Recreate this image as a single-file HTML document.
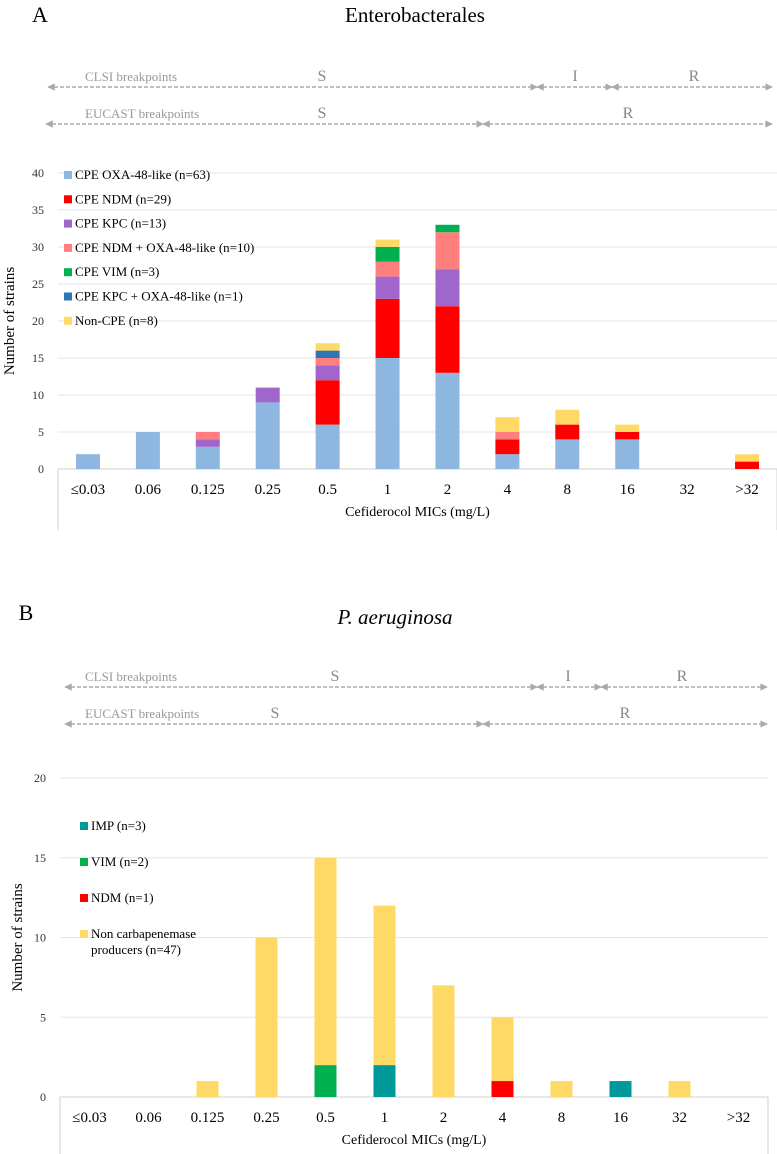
<!DOCTYPE html>
<html><head><meta charset="utf-8"><style>
html,body{margin:0;padding:0;background:#fff;}
svg{display:block;font-family:"Liberation Serif",serif;}
</style></head><body>
<svg id="s" width="777" height="1154" viewBox="0 0 777 1154">
<defs>
<marker id="ar" viewBox="0 0 10 10" refX="9" refY="5" markerWidth="5" markerHeight="5" orient="auto-start-reverse"><path d="M0,0 L10,5 L0,10 z" fill="#aaa"/></marker>
</defs>
<text x="40" y="22" font-size="22" text-anchor="middle">A</text>
<text x="415" y="22" font-size="21" text-anchor="middle">Enterobacterales</text>
<text x="26" y="620" font-size="22" text-anchor="middle">B</text>
<text x="395" y="624" font-size="21" font-style="italic" text-anchor="middle">P. aeruginosa</text>
<g id="gA"></g><g id="gB"></g>
</svg>
<script>
const NS='http://www.w3.org/2000/svg';
const svg=document.getElementById('s');
function el(t,a,p,txt){const e=document.createElementNS(NS,t);for(const k in a)e.setAttribute(k,a[k]);if(txt!==undefined)e.textContent=txt;(p||svg).appendChild(e);return e;}

const categories=['≤0.03','0.06','0.125','0.25','0.5','1','2','4','8','16','32','>32'];
// Panel A series
const aSeriesNames=['CPE OXA-48-like (n=63)','CPE NDM (n=29)','CPE KPC (n=13)','CPE NDM + OXA-48-like (n=10)','CPE VIM (n=3)','CPE KPC + OXA-48-like (n=1)','Non-CPE (n=8)'];
const aColors=['#8db6e0','#ff0000','#a066cc','#ff7f7f','#00b050','#2e75b6','#ffd966'];
const aOXA=[2,5,3,9,6,15,13,2,4,4,0,0];
const aNDM=[0,0,0,0,6,8,9,2,2,1,0,1];
const aKPC=[0,0,1,2,2,3,5,0,0,0,0,0];
const aNDMOXA=[0,0,1,0,1,2,5,1,0,0,0,0];
const aVIM=[0,0,0,0,0,2,1,0,0,0,0,0];
const aKPCOXA=[0,0,0,0,1,0,0,0,0,0,0,0];
const aNon=[0,0,0,0,1,1,0,2,2,1,0,1];
const aTicks=[0,5,10,15,20,25,30,35,40];
// Panel B series
const bSeriesNames=['IMP (n=3)','VIM (n=2)','NDM (n=1)','Non carbapenemase|producers (n=47)'];
const bColors=['#009999','#00b050','#ff0000','#ffd966'];
const bIMP=[0,0,0,0,0,2,0,0,0,1,0,0];
const bVIM=[0,0,0,0,2,0,0,0,0,0,0,0];
const bNDM=[0,0,0,0,0,0,0,1,0,0,0,0];
const bNon=[0,0,1,10,13,10,7,4,1,0,1,0];
const bTicks=[0,5,10,15,20];

function panel(g,o){
  const y=v=>o.y0-(v/o.max)*(o.y0-o.ytop);
  const cw=(o.x1-o.x0)/categories.length;
  const xc=i=>o.x0+cw*(i+0.5);
  o.ticks.forEach(t=>{
    if(t>0){const gl=el('line',{x1:o.x0,x2:o.x1,y1:y(t),y2:y(t),stroke:'#e6e6e6','stroke-width':1},g);
    
    }
    const tl=el('text',{x:o.x0-14,y:y(t)+4,'font-size':12,'text-anchor':'end',fill:'#333'},g,String(t));
    
    
  });
  const box=el('path',{d:`M${o.x0},${o.y0} L${o.x1},${o.y0} M${o.x0},${o.y0} L${o.x0},${o.boxBottom} M${o.x1},${o.y0} L${o.x1},${o.boxBottom}`,stroke:'#d0d0d0',fill:'none'},g);
  
  
  categories.forEach((c,i)=>{
    let base=0;
    o.series.forEach((s,k)=>{
      const v=s[i]; if(!v) return;
      const r=el('rect',{x:xc(i)-o.bw/2,y:y(base+v),width:o.bw,height:y(base)-y(base+v),fill:o.colors[k]},g);
      
      
      base+=v;
    });
    const xl=el('text',{x:xc(i),y:o.y0+25,'font-size':15,'text-anchor':'middle'},g,c);
    
    
  });
  const xt=el('text',{x:(o.x0+o.x1)/2,y:o.y0+47,'font-size':14,'text-anchor':'middle'},g,'Cefiderocol MICs (mg/L)');
  
  
  const yt=el('text',{x:0,y:0,'font-size':15,'text-anchor':'middle',transform:`translate(${o.ytx},${(o.y0+o.ytop)/2}) rotate(-90)`},g,'Number of strains');
  
  
  o.names.forEach((n,k)=>{
    const ly=o.legY+k*o.legStep;
    const sw=el('rect',{x:o.legX,y:ly-8,width:8,height:8,fill:o.colors[k]},g);
    
    
    const parts=n.split('|');
    parts.forEach((p,j)=>{
      const lt=el('text',{x:o.legX+11,y:ly+j*16,'font-size':o.legFs},g,p);
      
      
    });
  });
  o.bp.forEach(row=>{
    const lb=el('text',{x:85,y:row.y-6,'font-size':13,fill:'#999'},g,row.label);
    
    
    row.segs.forEach(sg=>{
      const ln=el('line',{x1:sg[0],x2:sg[1],y1:row.y,y2:row.y,stroke:'#aaa','stroke-width':1.5,'stroke-dasharray':'4,2','marker-start':'url(#ar)','marker-end':'url(#ar)'},g);
      
      
      const st=el('text',{x:sg[3],y:row.y-6,'font-size':16,fill:'#888','text-anchor':'middle'},g,sg[2]);
      
      
    });
  });
}
panel(document.getElementById('gA'),{x0:58,x1:777,y0:469,ytop:173,max:40,ticks:aTicks,bw:24,boxBottom:530,ytx:14,
  series:[aOXA,aNDM,aKPC,aNDMOXA,aVIM,aKPCOXA,aNon],colors:aColors,names:aSeriesNames,legX:64,legY:179,legStep:24.3,legFs:13,
  bp:[{y:87,label:'CLSI breakpoints',segs:[[48,537,'S',322],[537,612,'I',575],[612,772,'R',694]]},
      {y:124,label:'EUCAST breakpoints',segs:[[46,483,'S',322],[483,772,'R',628]]}]});
panel(document.getElementById('gB'),{x0:60,x1:768,y0:1097,ytop:778,max:20,ticks:bTicks,bw:22,boxBottom:1154,ytx:22,
  series:[bIMP,bVIM,bNDM,bNon],colors:bColors,names:bSeriesNames,legX:80,legY:830,legStep:36,legFs:13,
  bp:[{y:687,label:'CLSI breakpoints',segs:[[65,537,'S',335],[537,601,'I',568],[601,767,'R',682]]},
      {y:724,label:'EUCAST breakpoints',segs:[[65,483,'S',275],[483,767,'R',625]]}]});
</script>
</body></html>
